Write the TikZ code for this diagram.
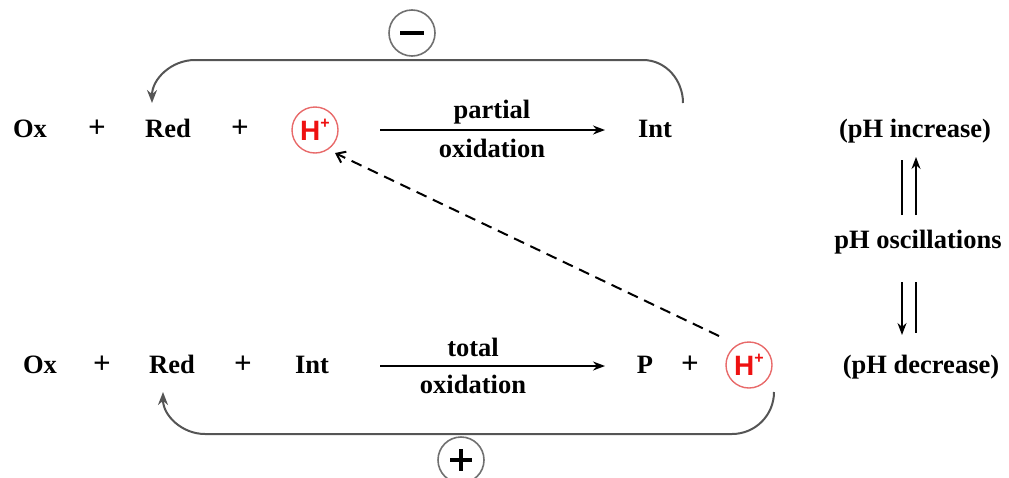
\documentclass[tikz,border=0pt]{standalone}
\usepackage{fontspec}
\setmainfont{Liberation Serif}
\newfontfamily\hfont{Liberation Sans}
\usetikzlibrary{arrows.meta,calc}
\definecolor{arcgray}{HTML}{555555}
\definecolor{circgray}{HTML}{707070}
\definecolor{hcirc}{HTML}{E86A6A}
\definecolor{hred}{HTML}{EE1111}
\tikzset{
  txt/.style={anchor=base, inner sep=0pt, font=\fontsize{26.5}{30}\selectfont\bfseries},
  plusop/.style={anchor=base, inner sep=0pt, font=\fontsize{31}{34}\selectfont\bfseries},
  hion/.style={circle, draw=hcirc, line width=1.4pt, minimum size=46pt, inner sep=0pt,
    text=hred, font=\hfont\fontsize{28}{30}\selectfont\bfseries},
  sign/.style={circle, draw=circgray, line width=1.6pt, minimum size=46pt, inner sep=0pt},
  rxn/.style={line width=1.6pt, -{Stealth[length=12pt,width=9pt]}},
  loop/.style={arcgray, line width=2pt},
  osc/.style={line width=1.6pt}
}
\newcommand{\Hp}{H\raisebox{0.42em}{\fontsize{16}{16}\selectfont +}}
\begin{document}
\begin{tikzpicture}[x=1pt,y=-1pt]
\useasboundingbox (0,0) rectangle (1009,477);
% top row
\node[txt] (ox1) at (30,137) {Ox};
\node[plusop] (p1a) at (97,137) {+};
\node[txt] (red1) at (168,137) {Red};
\node[plusop] (p1b) at (240,137) {+};
\node[hion] (ht) at (315,130) {\Hp};
\node[txt] (int1) at (655,137) {Int};
\coordinate (a1s) at (380,130);
\coordinate (a1e) at (605,130);
\draw[rxn] (a1s) -- (a1e);
\node[txt] (part) at (492,118) {partial};
\node[txt] (ox1l) at (492,157) {oxidation};
% bottom row
\node[txt] (ox2) at (40,373) {Ox};
\node[plusop] (p2a) at (102,373) {+};
\node[txt] (red2) at (172,373) {Red};
\node[plusop] (p2b) at (243,373) {+};
\node[txt] (int2) at (312,373) {Int};
\node[txt] (prod) at (645,373) {P};
\node[plusop] (p2c) at (690,373) {+};
\node[hion] (hb) at (749,365) {\Hp};
\coordinate (a2s) at (380,366);
\coordinate (a2e) at (605,366);
\draw[rxn] (a2s) -- (a2e);
\node[txt] (tot) at (473,356) {total};
\node[txt] (ox2l) at (473,393) {oxidation};
% feedback loops
\coordinate (t1) at (683,103);
\coordinate (t2) at (152,103);
\draw[loop, -{Stealth[length=13pt,width=10pt]}] (t1) to[out=90,in=0] (643,60) -- (195,60) to[out=180,in=90] (t2);
\node[sign] (minus) at (412,33) {};
\draw[line width=4pt, line cap=butt] ($(minus)+(-12,0)$) -- ($(minus)+(12,0)$);
\coordinate (b1) at (774,392);
\coordinate (b2) at (163,392);
\draw[loop, -{Stealth[length=13pt,width=10pt]}] (b1) to[out=-90,in=0] (732,434) -- (205,434) to[out=180,in=-90] (b2);
\node[sign] (plus) at (461,460) {};
\draw[line width=4pt] ($(plus)+(-11,0)$) -- ($(plus)+(11,0)$);
\draw[line width=4pt] ($(plus)+(0,-11)$) -- ($(plus)+(0,11)$);
% dashed link
\coordinate (dsA) at (719,336);
\coordinate (dsB) at (335,153);
\draw[line width=2pt, dash pattern=on 11pt off 7pt, -{Straight Barb[length=8pt,width=12pt]}] (dsA) -- (dsB);
% pH side
\node[txt] (inc) at (915,137) {(pH increase)};
\node[txt] (oscl) at (918,248) {pH oscillations};
\node[txt] (dec) at (921,373) {(pH decrease)};
\coordinate (u1a) at (902,215);
\coordinate (u1b) at (902,160);
\coordinate (u2a) at (916,215);
\coordinate (u2b) at (916,157);
\draw[osc] (u1a) -- (u1b);
\draw[osc, -{Stealth[length=12pt,width=9pt]}] (u2a) -- (u2b);
\coordinate (d1a) at (902,282);
\coordinate (d1b) at (902,335);
\coordinate (d2a) at (916,282);
\coordinate (d2b) at (916,333);
\draw[osc, -{Stealth[length=12pt,width=9pt]}] (d1a) -- (d1b);
\draw[osc] (d2a) -- (d2b);
\end{tikzpicture}
\end{document}
